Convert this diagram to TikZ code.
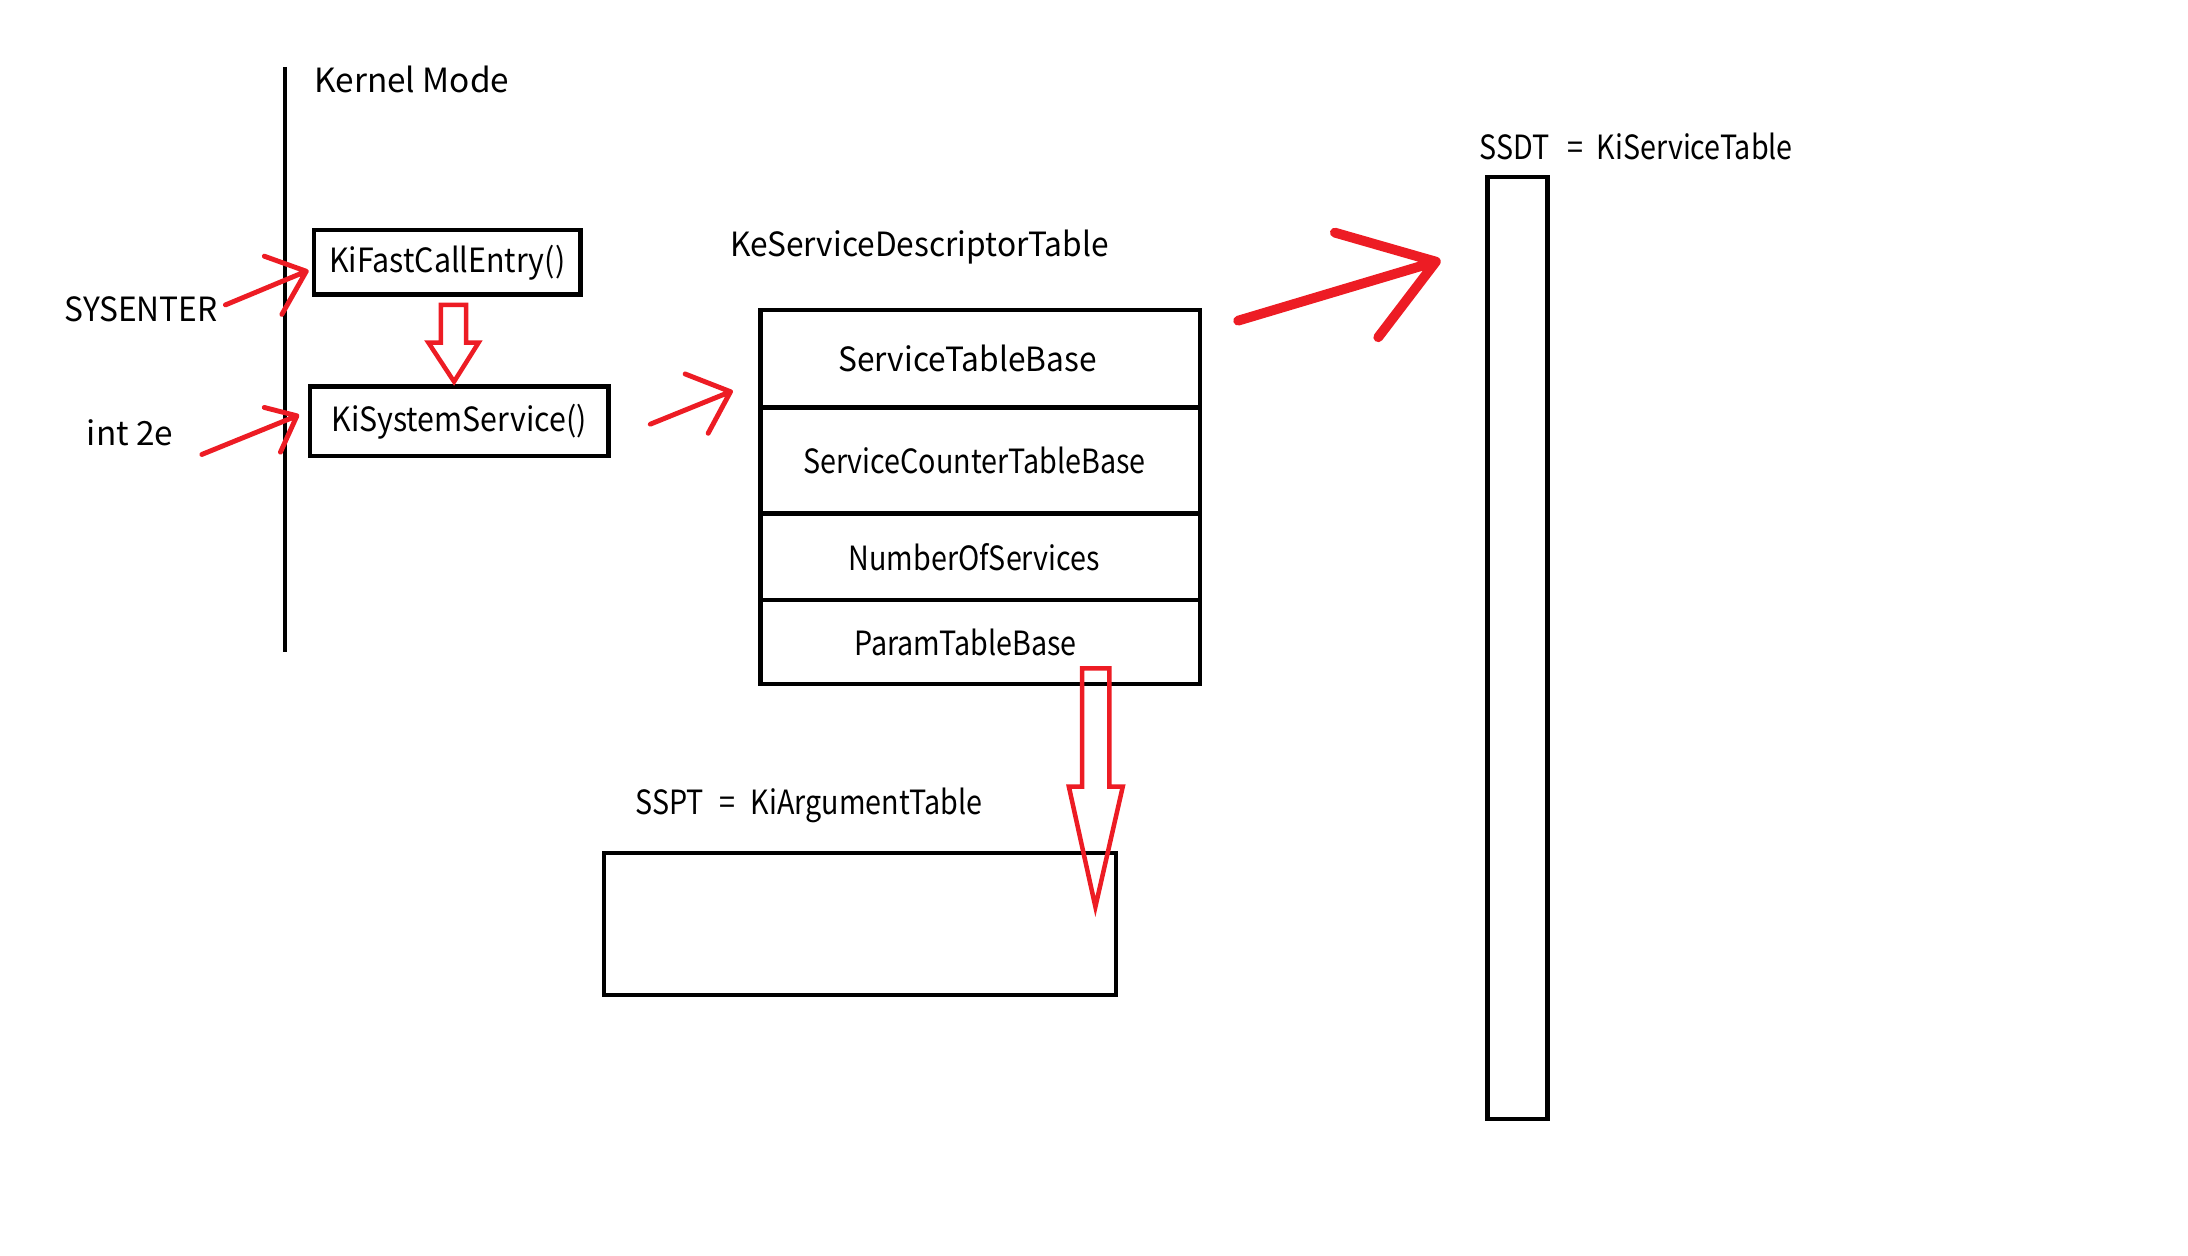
\documentclass[tikz,border=0pt]{standalone}
\usepackage{fontspec}
\setmainfont{Noto Sans CJK KR}
\newfontfamily\midfont[FakeStretch=0.95]{Noto Sans CJK KR}
\newfontfamily\boxfont[FakeStretch=0.91]{Noto Sans CJK KR}
\newfontfamily\narrowfont[FakeStretch=0.86]{Noto Sans CJK KR}
\usetikzlibrary{positioning}
\definecolor{paintred}{RGB}{237,28,36}
\tikzset{
  box/.style={draw, line width=2.1pt, inner sep=0pt, outer sep=0pt},
  row/.style={box, minimum width=7.875cm, font=\narrowfont\fontsize{17}{20}\selectfont},
  lbl/.style={inner sep=0pt},
  redpen/.style={draw=paintred, line width=2.5pt, line cap=round, line join=round},
  hollow/.style={draw=paintred, line width=2.3pt, line join=miter},
}
\begin{document}
\begin{tikzpicture}[x=0.025cm, y=-0.025cm, font=\fontsize{17}{20}\selectfont]
  \useasboundingbox (0,0) rectangle (1568,900);
  % kernel mode border
  \coordinate (KT) at (204,48);
  \coordinate (KB) at (204,467);
  \draw[line width=2pt] (KT) -- (KB);
  \foreach \n/\x/\y/\t in {kmode/225/66/{Kernel Mode}, sysenter/46/230.5/{\midfont SYSENTER}, intte/62/319.5/{int 2e},
      ksdt/523/184/{\midfont KeServiceDescriptorTable},
      ssdt/1060/114/{\narrowfont SSDT\hspace{9pt}=\hspace{7pt}KiServiceTable},
      sspt/455/583.5/{\narrowfont SSPT\hspace{8pt}=\hspace{8pt}KiArgumentTable}}
    \node[lbl, anchor=base west] (\n) at (\x,\y) {\t};
  % entry functions
  \node[box, font=\boxfont\fontsize{17}{20}\selectfont, minimum width=4.775cm, minimum height=1.15cm] (kfce) at (320.5,188) {KiFastCallEntry()};
  \node[box, font=\boxfont\fontsize{17}{20}\selectfont, minimum width=5.35cm, minimum height=1.25cm] (ksys) at (329,302) {KiSystemService()};
  % descriptor table
  \node[row, font=\midfont\fontsize{17}{20}\selectfont, minimum height=1.75cm] (stb) at (702.5,257) {\hspace{-13pt}ServiceTableBase};
  \node[row, minimum height=1.9cm, below=0pt of stb] (sctb) {\hspace{-6pt}ServiceCounterTableBase};
  \node[row, minimum height=1.55cm, below=0pt of sctb] (nos) {\hspace{-6pt}NumberOfServices};
  \node[row, minimum height=1.5cm, below=0pt of nos] (ptb) {\hspace{-15pt}ParamTableBase};
  % tables
  \node[box, minimum width=1.075cm, minimum height=16.875cm] (kst) at (1087.5,464.5) {};
  \node[box, minimum width=9.175cm, minimum height=2.55cm] (kat) at (616.5,662) {};
  % red pen arrows
  \foreach \s/\t/\u/\l in {{161.6,218.5}/{219.5,194.4}/{189.4,183.6}/{202,225.3},
      {144.6,325.7}/{212.8,298}/{189.4,292}/{201,324},
      {466,304}/{523.5,280.7}/{491,268}/{507.5,310.5}}
    \draw[redpen] (\s) -- (\t) (\u) -- (\t) -- (\l);
  \coordinate (bs) at (887.3,229.8);
  \coordinate (bt) at (1029,187.5);
  \coordinate (bu) at (956.6,166.7);
  \coordinate (bl) at (987.7,241.7);
  \draw[redpen, line width=5pt] (bs) -- (bt) (bu) -- (bt) -- (bl);
  % hollow arrows
  \draw[hollow] (316,218.5) -- (334,218.5) -- (334,245.5) -- (343,245.5) -- (325.4,273.5)
    -- (307,245.5) -- (316,245.5) -- cycle;
  \draw[hollow] (775.4,479) -- (795,479) -- (795,563.8) -- (804.6,563.8) -- (785,649.8)
    -- (766,563.8) -- (775.4,563.8) -- cycle;
\end{tikzpicture}
\end{document}
